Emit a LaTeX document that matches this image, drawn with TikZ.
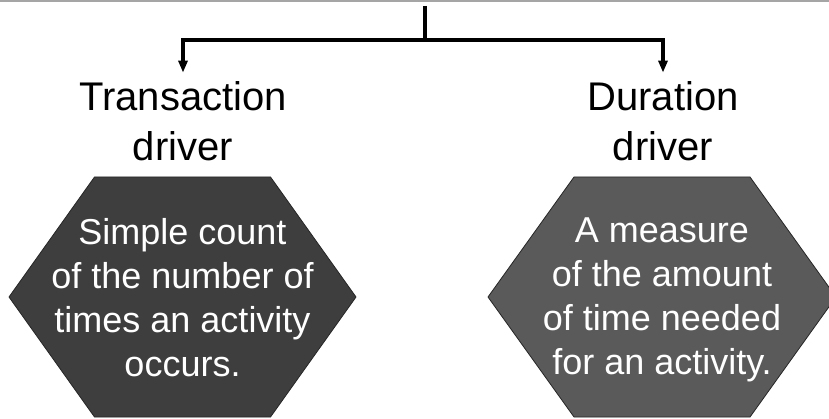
\documentclass[tikz,border=0pt]{standalone}
\usepackage{fontspec}
\setmainfont{Liberation Sans}
\usetikzlibrary{arrows.meta}

\definecolor{hexdark}{RGB}{62,62,62}
\definecolor{hexmid}{RGB}{90,90,90}
\definecolor{rulegray}{RGB}{165,165,165}

\tikzset{
  link/.style={line width=3.4pt, -{Triangle[width=9pt,length=12pt]}},
  trunk/.style={line width=3.4pt},
  driverlabel/.style={align=center, inner sep=9pt, text=black,
    font=\fontsize{40}{50}\selectfont},
  hexshape/.style={draw=black!85, line width=0.8pt},
  hextext/.style={align=center, inner sep=0pt, text=white,
    font=\fontsize{36}{44}\selectfont},
}

\begin{document}
\begin{tikzpicture}[x=1pt, y=-1pt]
  \useasboundingbox (0,0) rectangle (829,419);

  % thin rule along the top edge
  \draw[rulegray, line width=1.6pt] (0,0.8) -- (829,0.8);

  % hexagon backgrounds
  \begin{scope}[shift={(182.5,297)}]
    \filldraw[hexshape, fill=hexdark]
      (-173.5,0) -- (-88,-120) -- (88,-120) -- (173.5,0) -- (88,120) -- (-88,120) -- cycle;
  \end{scope}
  \begin{scope}[shift={(662,297)}]
    \filldraw[hexshape, fill=hexmid]
      (-174,0) -- (-88,-120) -- (88,-120) -- (174,0) -- (88,120) -- (-88,120) -- cycle;
  \end{scope}

  % labels
  \node[driverlabel] (tdrv) at (183,121.5) {Transaction\\driver};
  \node[driverlabel] (ddrv) at (663,121.5) {Duration\\driver};

  % hexagon texts
  \node[hextext] (tdesc) at (182.5,298) {Simple count\\of the number of\\times an activity\\occurs.};
  \node[hextext] (ddesc) at (662,300) {A measure\\of the amount\\of time needed\\for an activity.};

  % connectors
  \coordinate (root) at (425,6);
  \coordinate (hub) at (425,40);
  \draw[trunk] (root) -- (hub);
  \draw[link] (hub) -| (tdrv.north);
  \draw[link] (hub) -| (ddrv.north);
\end{tikzpicture}
\end{document}
